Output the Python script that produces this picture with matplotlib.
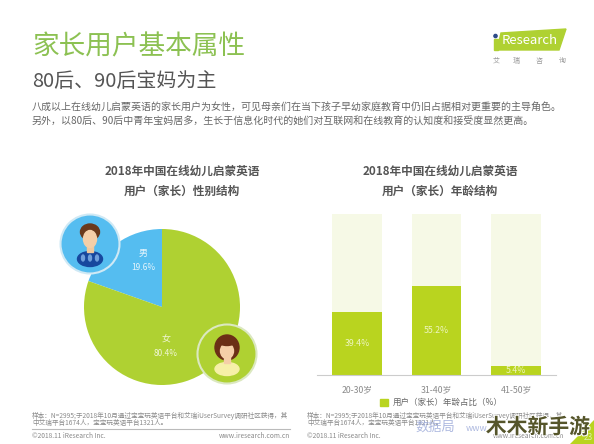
import matplotlib
matplotlib.use('Agg')
import matplotlib.pyplot as plt
from matplotlib.patches import Circle, Ellipse, Polygon, Rectangle
import matplotlib.patheffects as pe

plt.rcParams['font.family'] = ['Noto Sans CJK SC', 'DejaVu Sans']

gender_labels = ['男', '女']
gender_values = [19.6, 80.4]
gender_colors = ['#55bdf0', '#afd132']

age_labels = ['20-30岁', '31-40岁', '41-50岁']
age_values = [39.4, 55.2, 5.4]
age_total = [100, 100, 100]

W, H = 594, 444
GREY = '#666666'
LIGHT = '#8a8a8a'


def pixel_axes(fig, left, top, right, bottom):
    # axes placed by pixel box, y measured from the top of the page
    return fig.add_axes([left / W, 1 - bottom / H, (right - left) / W, (bottom - top) / H])


fig = plt.figure(figsize=(W / 100, H / 100), dpi=100, facecolor='white')

# page layer in pixel coordinates
page = fig.add_axes([0, 0, 1, 1], zorder=0)
page.set_xlim(0, W)
page.set_ylim(H, 0)
page.axis('off')

page.text(32, 47, '家长用户基本属性', fontsize=19.2, color='#8cc152', va='center')
page.text(32, 81, '80后、90后宝妈为主', fontsize=14.4, color='#555555', va='center')
page.text(32, 108, '八成以上在线幼儿启蒙英语的家长用户为女性，可见母亲们在当下孩子早幼家庭教育中仍旧占据相对更重要的主导角色。',
          fontsize=7.2, color=GREY, va='center')
page.text(32, 122, '另外，以80后、90后中青年宝妈居多，生长于信息化时代的她们对互联网和在线教育的认知度和接受度显然更高。',
          fontsize=7.2, color=GREY, va='center')

# logo
page.add_patch(Polygon([(501, 33), (566, 29), (559, 50), (497, 50)], color='#afd132'))
page.add_patch(Rectangle((493.5, 39), 4, 11, color='#afd132'))
page.add_patch(Circle((495.5, 36), 1.6, color='#2d4a8a'))
page.text(502, 41, 'Research', fontsize=9.5, color='white', va='center')
for x, ch in zip([496, 516, 539, 562], '艾瑞咨询'):
    page.text(x, 61, ch, fontsize=5, color='#999999', ha='center', va='center')

# chart headings
for cx, second in [(182, '用户（家长）性别结构'), (440, '用户（家长）年龄结构')]:
    page.text(cx, 171, '2018年中国在线幼儿启蒙英语', fontsize=8.4, fontweight='bold',
              color='#555555', ha='center', va='center')
    page.text(cx, 191, second, fontsize=8.4, fontweight='bold',
              color='#555555', ha='center', va='center')

# footnotes
note_a = '样本：N=2995;于2018年10月通过宝宝玩英语平台和艾瑞iUserSurvey调研社区获得，其'
note_b = '中艾瑞平台1674人，宝宝玩英语平台1321人。'
for x in (32, 307):
    page.text(x, 416, note_a, fontsize=4.8, color=LIGHT, va='center')
    page.text(x, 423, note_b, fontsize=4.8, color=LIGHT, va='center')
    page.text(x, 436, '©2018.11 iResearch Inc.', fontsize=4.8, color=LIGHT, va='center')
page.plot([32, 290], [429, 429], color='#bbbbbb', lw=0.8)
page.text(290, 436, 'www.iresearch.com.cn', fontsize=4.8, color=LIGHT, va='center', ha='right')
page.text(564, 436, 'www.iresearch.com.cn', fontsize=4.8, color=LIGHT, va='center', ha='right')

# gender pie
pie_ax = pixel_axes(fig, 84, 229, 240, 385)
wedges, _ = pie_ax.pie(gender_values, colors=gender_colors, startangle=90, counterclock=True, radius=1)
pie_ax.set_xlim(-1, 1)
pie_ax.set_ylim(-1, 1)
pie_ax.text(-0.245, 0.69, gender_labels[0], color='#e4f4fc', fontsize=6.5, ha='center', va='center')
pie_ax.text(-0.245, 0.51, f'{gender_values[0]}%', color='#e4f4fc', fontsize=6, ha='center', va='center')
pie_ax.text(0.05, -0.41, gender_labels[1], color='#f0f6d4', fontsize=6.5, ha='center', va='center')
pie_ax.text(0.05, -0.59, f'{gender_values[1]}%', color='#f0f6d4', fontsize=6, ha='center', va='center')

# age bars with a pale full-height track behind each
bar_ax = pixel_axes(fig, 317, 214, 556, 375)
xpos = range(len(age_labels))
bar_ax.bar(xpos, age_total, width=0.62, color='#f6f9e6')
bars = bar_ax.bar(xpos, age_values, width=0.62, color='#b9d41f')
bar_ax.set_xlim(-0.5, 2.5)
bar_ax.set_ylim(0, 100)
bar_ax.set_yticks([])
bar_ax.set_xticks(list(xpos))
bar_ax.set_xticklabels(age_labels, fontsize=6.3, color=LIGHT)
bar_ax.tick_params(axis='x', length=0, pad=7)
for side in ('top', 'left', 'right'):
    bar_ax.spines[side].set_visible(False)
bar_ax.spines['bottom'].set_color('#cccccc')
for x, v in zip(xpos, age_values):
    bar_ax.text(x, v / 2, f'{v}%', color='#eef5c0', fontsize=6.3, ha='center', va='center')

# icons and overlays sit above the charts
top = fig.add_axes([0, 0, 1, 1], zorder=5)
top.set_xlim(0, W)
top.set_ylim(H, 0)
top.axis('off')

# father
top.add_patch(Circle((90, 244), 29.5, facecolor='#55bdf0', edgecolor='#cfe9f5', lw=1.5))
top.add_patch(Ellipse((90, 259), 25, 15, color='#17479e'))
for dx in (-7, 0, 7):
    top.add_patch(Ellipse((90 + dx, 258), 3, 6, color='#6f9fdc'))
top.add_patch(Rectangle((87, 245), 6, 7, color='#f0c9a0'))
top.add_patch(Ellipse((90, 232), 19, 16, color='#6b3a1c'))
top.add_patch(Ellipse((90, 239), 13, 17, color='#f5cfa8'))

# mother
top.add_patch(Circle((227, 354), 29.5, facecolor='#afd132', edgecolor='#dbe8c0', lw=1.5))
top.add_patch(Ellipse((227, 347.5), 24, 25, color='#6b2f16'))
top.add_patch(Ellipse((227, 369), 24, 13, color='#f6f0a8'))
top.add_patch(Rectangle((224, 356), 6, 7, color='#f5cfa8'))
top.add_patch(Ellipse((227, 351), 13, 15, color='#f5cfa8'))
top.add_patch(Ellipse((227, 342), 16, 7, color='#6b2f16'))

# legend for the bars
top.add_patch(Rectangle((380, 399), 8, 7, color='#b9d41f'))
top.text(393, 402, '用户（家长）年龄占比（%）', fontsize=6.1, color=GREY, va='center')

# site stamps and page corner
top.add_patch(Polygon([(594, 420), (594, 444), (570, 444)], color='#b9d41f'))
top.text(588, 437, '23', fontsize=6, color='#ddeeaa', ha='center', va='center')
top.text(435, 427, '数据局', fontsize=9.5, color='#9aa8d8', alpha=0.8, va='center', ha='center')
top.text(466, 428, 'www', fontsize=6.5, color='#9aa8d8', alpha=0.8, va='center')
top.text(538, 427, '木木新手游', fontsize=15, fontweight='bold', color='#55552a', ha='center', va='center',
         path_effects=[pe.withStroke(linewidth=1.5, foreground='white')])

fig.savefig('out.png', dpi=100)
